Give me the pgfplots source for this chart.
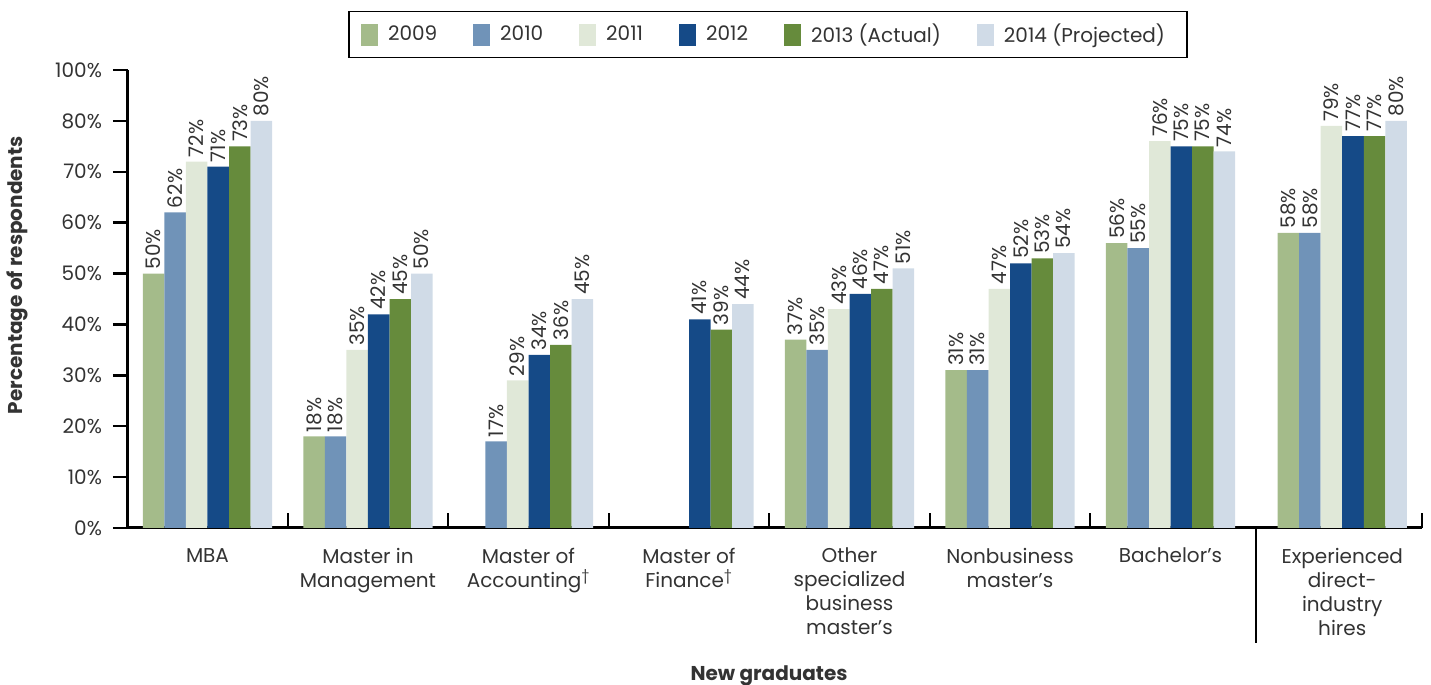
\documentclass[border=0pt]{standalone}
\usepackage{fontspec}
\setmainfont{Poppins}
\usepackage{pgfplots}
\pgfplotsset{compat=1.18}
\definecolor{c09}{HTML}{A4BB8A}
\definecolor{c10}{HTML}{7093B8}
\definecolor{c11}{HTML}{E0E8D8}
\definecolor{c12}{HTML}{154A87}
\definecolor{c13}{HTML}{668B3C}
\definecolor{c14}{HTML}{D0DBE7}
\definecolor{txt}{HTML}{333333}
\pgfplotsset{sq legend/.style={legend image code/.code={\fill[##1] (0pt,-5.5pt) rectangle (8.5pt,5.5pt);}}}
\begin{document}
\begin{tikzpicture}
\useasboundingbox (0,0) rectangle (715.5pt,342.5pt);
\begin{axis}[
  at={(64pt,78.5pt)}, anchor=south west,
  scale only axis, width=647pt, height=229pt,
  xmin=-0.4953, xmax=7.567, ymin=0, ymax=90,
  axis x line=bottom, axis y line=left,
  axis line style={-, line width=1.5pt, black},
  clip=false,
  ybar=0pt, bar width=0.134,
  xtick=\empty,
  extra x ticks={0,1,2,3,4,5,6,7.07},
  extra x tick labels={MBA,{Master in\\Management},{Master of\\Accounting\textsuperscript{†}},{Master of\\Finance\textsuperscript{†}},{Other\\specialized\\business\\master’s},{Nonbusiness\\master’s},{Bachelor’s},{Experienced\\direct-\\industry\\hires}},
  extra x tick style={major tick length=0pt, tick label style={align=center, font=\fontsize{10}{12}\selectfont, text=txt, yshift=-6.5pt}},
  ytick={0,10,...,90},
  yticklabels={0\%,10\%,20\%,30\%,40\%,50\%,60\%,70\%,80\%,100\%},
  tick align=outside, major tick length=7.5pt,
  y tick style={line width=1.2pt, black},
  yticklabel style={font=\fontsize{10}{12}\selectfont, text=txt, xshift=-2pt},
  ylabel={\bfseries Percentage of respondents},
  ylabel style={at={(axis description cs:-0.0858,0.552)}, anchor=center, font=\fontsize{10}{12}\selectfont, text=txt},
  xlabel={\bfseries New graduates},
  xlabel style={at={(axis description cs:0.4954,-0.323)}, anchor=center, font=\fontsize{10}{12}\selectfont, text=txt},
  nodes near coords, point meta=explicit symbolic,
  every node near coord/.append style={rotate=90, anchor=west, font=\fontsize{10}{12}\selectfont, text=txt, inner sep=2pt},
  every axis plot post/.append style={sq legend},
  legend columns=6,
  legend style={at={(0.4946,1.0775)}, anchor=center, draw=black, line width=0.8pt, font=\fontsize{10}{12}\selectfont, text=txt, inner xsep=6pt, inner ysep=4pt, nodes={inner xsep=5pt}, /tikz/every even column/.append style={column sep=13pt}},
]
\addplot[fill=c09, draw=none] coordinates {(0,50)[50\%] (1,18)[18\%] (4,37)[37\%] (5,31)[31\%] (6,56)[56\%] (7.07,58)[58\%]};
\addplot[fill=c10, draw=none] coordinates {(0,62)[62\%] (1,18)[18\%] (2,17)[17\%] (4,35)[35\%] (5,31)[31\%] (6,55)[55\%] (7.07,58)[58\%]};
\addplot[fill=c11, draw=none] coordinates {(0,72)[72\%] (1,35)[35\%] (2,29)[29\%] (4,43)[43\%] (5,47)[47\%] (6,76)[76\%] (7.07,79)[79\%]};
\addplot[fill=c12, draw=none] coordinates {(0,71)[71\%] (1,42)[42\%] (2,34)[34\%] (3,41)[41\%] (4,46)[46\%] (5,52)[52\%] (6,75)[75\%] (7.07,77)[77\%]};
\addplot[fill=c13, draw=none] coordinates {(0,75)[73\%] (1,45)[45\%] (2,36)[36\%] (3,39)[39\%] (4,47)[47\%] (5,53)[53\%] (6,75)[75\%] (7.07,77)[77\%]};
\addplot[fill=c14, draw=none] coordinates {(0,80)[80\%] (1,50)[50\%] (2,45)[45\%] (3,44)[44\%] (4,51)[51\%] (5,54)[54\%] (6,74)[74\%] (7.07,80)[80\%]};
\legend{2009,2010,2011,2012,2013 (Actual),2014 (Projected)}
\draw[line width=1.1pt, black] (axis cs:0.5,0) -- ++(0pt,7.5pt);
\draw[line width=1.1pt, black] (axis cs:1.5,0) -- ++(0pt,7.5pt);
\draw[line width=1.1pt, black] (axis cs:2.5,0) -- ++(0pt,7.5pt);
\draw[line width=1.1pt, black] (axis cs:3.5,0) -- ++(0pt,7.5pt);
\draw[line width=1.1pt, black] (axis cs:4.5,0) -- ++(0pt,7.5pt);
\draw[line width=1.1pt, black] (axis cs:5.5,0) -- ++(0pt,7.5pt);
\draw[line width=1.1pt, black] (axis cs:7.567,0) -- ++(0pt,7.5pt);
\draw[line width=1.1pt, black] (axis cs:6.533,0) -- ++(0pt,-57.5pt);
\end{axis}
\end{tikzpicture}
\end{document}
